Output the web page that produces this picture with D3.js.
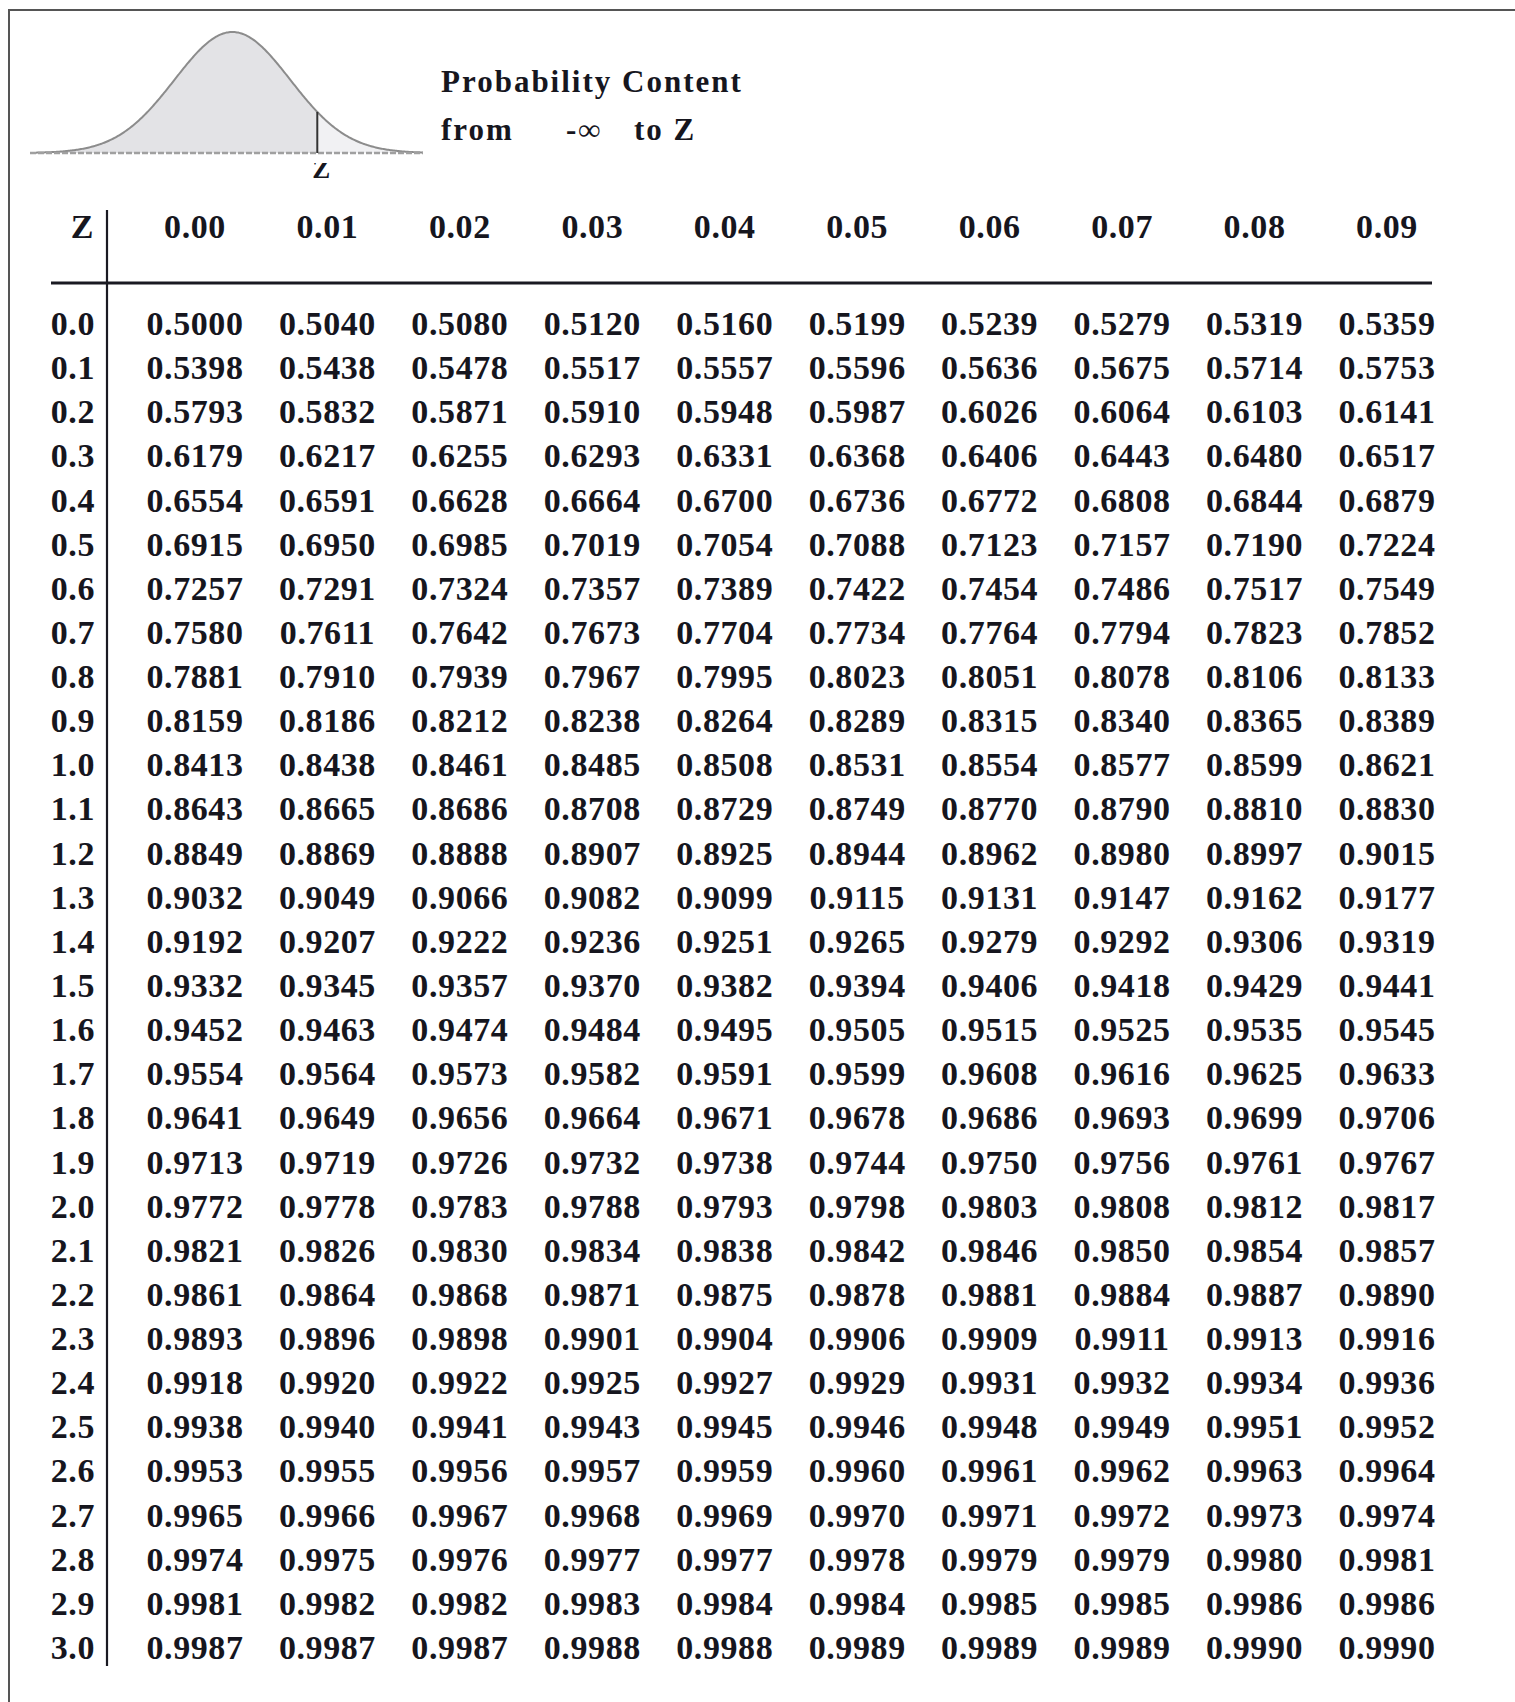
<!DOCTYPE html>
<html>
<head>
<meta charset="utf-8">
<script src="https://cdn.jsdelivr.net/npm/d3@7"></script>
<style>
  body { margin: 0; background: #fff; }
  text { font-family: "Liberation Serif", "Times New Roman", serif; fill: #16161e; }
</style>
</head>
<body>
<div id="svg-container"></div>
<script>
// Row labels (z to one decimal) and column labels (second decimal)
const zRows = ["0.0", "0.1", "0.2", "0.3", "0.4", "0.5", "0.6", "0.7", "0.8", "0.9",
               "1.0", "1.1", "1.2", "1.3", "1.4", "1.5", "1.6", "1.7", "1.8", "1.9",
               "2.0", "2.1", "2.2", "2.3", "2.4", "2.5", "2.6", "2.7", "2.8", "2.9", "3.0"];
const hundredths = ["0.00", "0.01", "0.02", "0.03", "0.04", "0.05", "0.06", "0.07", "0.08", "0.09"];

// Probability content from -inf to Z, one array per row
const probRows = [
  [0.5000, 0.5040, 0.5080, 0.5120, 0.5160, 0.5199, 0.5239, 0.5279, 0.5319, 0.5359],
  [0.5398, 0.5438, 0.5478, 0.5517, 0.5557, 0.5596, 0.5636, 0.5675, 0.5714, 0.5753],
  [0.5793, 0.5832, 0.5871, 0.5910, 0.5948, 0.5987, 0.6026, 0.6064, 0.6103, 0.6141],
  [0.6179, 0.6217, 0.6255, 0.6293, 0.6331, 0.6368, 0.6406, 0.6443, 0.6480, 0.6517],
  [0.6554, 0.6591, 0.6628, 0.6664, 0.6700, 0.6736, 0.6772, 0.6808, 0.6844, 0.6879],
  [0.6915, 0.6950, 0.6985, 0.7019, 0.7054, 0.7088, 0.7123, 0.7157, 0.7190, 0.7224],
  [0.7257, 0.7291, 0.7324, 0.7357, 0.7389, 0.7422, 0.7454, 0.7486, 0.7517, 0.7549],
  [0.7580, 0.7611, 0.7642, 0.7673, 0.7704, 0.7734, 0.7764, 0.7794, 0.7823, 0.7852],
  [0.7881, 0.7910, 0.7939, 0.7967, 0.7995, 0.8023, 0.8051, 0.8078, 0.8106, 0.8133],
  [0.8159, 0.8186, 0.8212, 0.8238, 0.8264, 0.8289, 0.8315, 0.8340, 0.8365, 0.8389],
  [0.8413, 0.8438, 0.8461, 0.8485, 0.8508, 0.8531, 0.8554, 0.8577, 0.8599, 0.8621],
  [0.8643, 0.8665, 0.8686, 0.8708, 0.8729, 0.8749, 0.8770, 0.8790, 0.8810, 0.8830],
  [0.8849, 0.8869, 0.8888, 0.8907, 0.8925, 0.8944, 0.8962, 0.8980, 0.8997, 0.9015],
  [0.9032, 0.9049, 0.9066, 0.9082, 0.9099, 0.9115, 0.9131, 0.9147, 0.9162, 0.9177],
  [0.9192, 0.9207, 0.9222, 0.9236, 0.9251, 0.9265, 0.9279, 0.9292, 0.9306, 0.9319],
  [0.9332, 0.9345, 0.9357, 0.9370, 0.9382, 0.9394, 0.9406, 0.9418, 0.9429, 0.9441],
  [0.9452, 0.9463, 0.9474, 0.9484, 0.9495, 0.9505, 0.9515, 0.9525, 0.9535, 0.9545],
  [0.9554, 0.9564, 0.9573, 0.9582, 0.9591, 0.9599, 0.9608, 0.9616, 0.9625, 0.9633],
  [0.9641, 0.9649, 0.9656, 0.9664, 0.9671, 0.9678, 0.9686, 0.9693, 0.9699, 0.9706],
  [0.9713, 0.9719, 0.9726, 0.9732, 0.9738, 0.9744, 0.9750, 0.9756, 0.9761, 0.9767],
  [0.9772, 0.9778, 0.9783, 0.9788, 0.9793, 0.9798, 0.9803, 0.9808, 0.9812, 0.9817],
  [0.9821, 0.9826, 0.9830, 0.9834, 0.9838, 0.9842, 0.9846, 0.9850, 0.9854, 0.9857],
  [0.9861, 0.9864, 0.9868, 0.9871, 0.9875, 0.9878, 0.9881, 0.9884, 0.9887, 0.9890],
  [0.9893, 0.9896, 0.9898, 0.9901, 0.9904, 0.9906, 0.9909, 0.9911, 0.9913, 0.9916],
  [0.9918, 0.9920, 0.9922, 0.9925, 0.9927, 0.9929, 0.9931, 0.9932, 0.9934, 0.9936],
  [0.9938, 0.9940, 0.9941, 0.9943, 0.9945, 0.9946, 0.9948, 0.9949, 0.9951, 0.9952],
  [0.9953, 0.9955, 0.9956, 0.9957, 0.9959, 0.9960, 0.9961, 0.9962, 0.9963, 0.9964],
  [0.9965, 0.9966, 0.9967, 0.9968, 0.9969, 0.9970, 0.9971, 0.9972, 0.9973, 0.9974],
  [0.9974, 0.9975, 0.9976, 0.9977, 0.9977, 0.9978, 0.9979, 0.9979, 0.9980, 0.9981],
  [0.9981, 0.9982, 0.9982, 0.9983, 0.9984, 0.9984, 0.9985, 0.9985, 0.9986, 0.9986],
  [0.9987, 0.9987, 0.9987, 0.9988, 0.9988, 0.9989, 0.9989, 0.9989, 0.9990, 0.9990]
];

// Z position marked in the little bell curve icon
const zMark = 1.47;

const width = 1515, height = 1702;
const fmt = d3.format(".4f");

const svg = d3.select("#svg-container")
    .append("svg")
    .attr("width", width)
    .attr("height", height);

// Outer frame (top and left edges only, as in the scan)
svg.append("path")
    .attr("d", `M9,${height} L9,10 L${width},10`)
    .attr("fill", "none")
    .attr("stroke", "#555")
    .attr("stroke-width", 2);

// --- bell curve icon ---
const bellX = d3.scaleLinear().domain([-3.4, 3.3]).range([36, 423]);
const pdf = z => Math.exp(-z * z / 2) / Math.sqrt(2 * Math.PI);
const bellY = d3.scaleLinear().domain([0, pdf(0)]).range([153, 32]);
const zs = d3.range(-3.4, 3.3001, 0.02);

const area = d3.area().x(d => bellX(d)).y0(bellY(0)).y1(d => bellY(pdf(d)));
svg.append("path")
    .attr("d", area(zs.filter(d => d <= zMark).concat([zMark])))
    .attr("fill", "#e3e3e6");
svg.append("path")
    .attr("d", area([zMark].concat(zs.filter(d => d > zMark))))
    .attr("fill", "#f1f1f3");

svg.append("path")
    .attr("d", d3.line().x(d => bellX(d)).y(d => bellY(pdf(d)))(zs))
    .attr("fill", "none")
    .attr("stroke", "#8c8c8c")
    .attr("stroke-width", 2);

svg.append("line")
    .attr("x1", 30).attr("x2", 423)
    .attr("y1", bellY(0)).attr("y2", bellY(0))
    .attr("stroke", "#a0a0a0")
    .attr("stroke-width", 2.5)
    .attr("stroke-dasharray", "6,2");

svg.append("line")
    .attr("x1", bellX(zMark)).attr("x2", bellX(zMark))
    .attr("y1", bellY(pdf(zMark))).attr("y2", bellY(0))
    .attr("stroke", "#333")
    .attr("stroke-width", 2);

// the "z" under the icon is cut off at the top in the scan
svg.append("clipPath").attr("id", "zclip")
    .append("rect").attr("x", 300).attr("y", 163).attr("width", 45).attr("height", 30);
svg.append("text")
    .attr("x", bellX(zMark) + 4)
    .attr("y", 178)
    .attr("text-anchor", "middle")
    .attr("clip-path", "url(#zclip)")
    .style("font-size", "27px")
    .style("font-weight", "bold")
    .text("Z");

// --- title ---
const title = svg.append("g")
    .style("font-size", "31px")
    .style("font-weight", "bold")
    .style("letter-spacing", "2px");
title.append("text").attr("x", 441).attr("y", 92).text("Probability Content");
title.append("text").attr("x", 441).attr("y", 140).text("from");
title.append("text").attr("x", 566).attr("y", 140).text("-\u221E");
title.append("text").attr("x", 634).attr("y", 140).text("to Z");

// --- table ---
const colX = d3.scalePoint().domain(hundredths).range([195, 1387]);
const rowY = d3.scalePoint().domain(zRows).range([335, 1659]);
const headerY = 238;

svg.append("line")
    .attr("x1", 51).attr("x2", 1432)
    .attr("y1", 283).attr("y2", 283)
    .attr("stroke", "#1a1a22")
    .attr("stroke-width", 3);

svg.append("line")
    .attr("x1", 107).attr("x2", 107)
    .attr("y1", 210).attr("y2", 1666)
    .attr("stroke", "#1a1a22")
    .attr("stroke-width", 2.2);

const table = svg.append("g")
    .style("font-size", "34px")
    .style("font-weight", "bold")
    .style("letter-spacing", "0.6px");

table.append("text")
    .attr("x", 94)
    .attr("y", headerY)
    .attr("text-anchor", "end")
    .text("Z");

table.selectAll("text.col-label")
    .data(hundredths)
    .enter()
    .append("text")
    .attr("class", "col-label")
    .attr("x", d => colX(d))
    .attr("y", headerY)
    .attr("text-anchor", "middle")
    .text(d => d);

table.selectAll("text.row-label")
    .data(zRows)
    .enter()
    .append("text")
    .attr("class", "row-label")
    .attr("x", 95)
    .attr("y", d => rowY(d))
    .attr("text-anchor", "end")
    .text(d => d);

const rows = table.selectAll("g.row")
    .data(probRows)
    .enter()
    .append("g")
    .attr("class", "row")
    .attr("transform", (d, i) => `translate(0, ${rowY(zRows[i])})`);

rows.selectAll("text")
    .data(d => d)
    .enter()
    .append("text")
    .attr("x", (d, j) => colX(hundredths[j]))
    .attr("y", 0)
    .attr("text-anchor", "middle")
    .text(d => fmt(d));
</script>
</body>
</html>
